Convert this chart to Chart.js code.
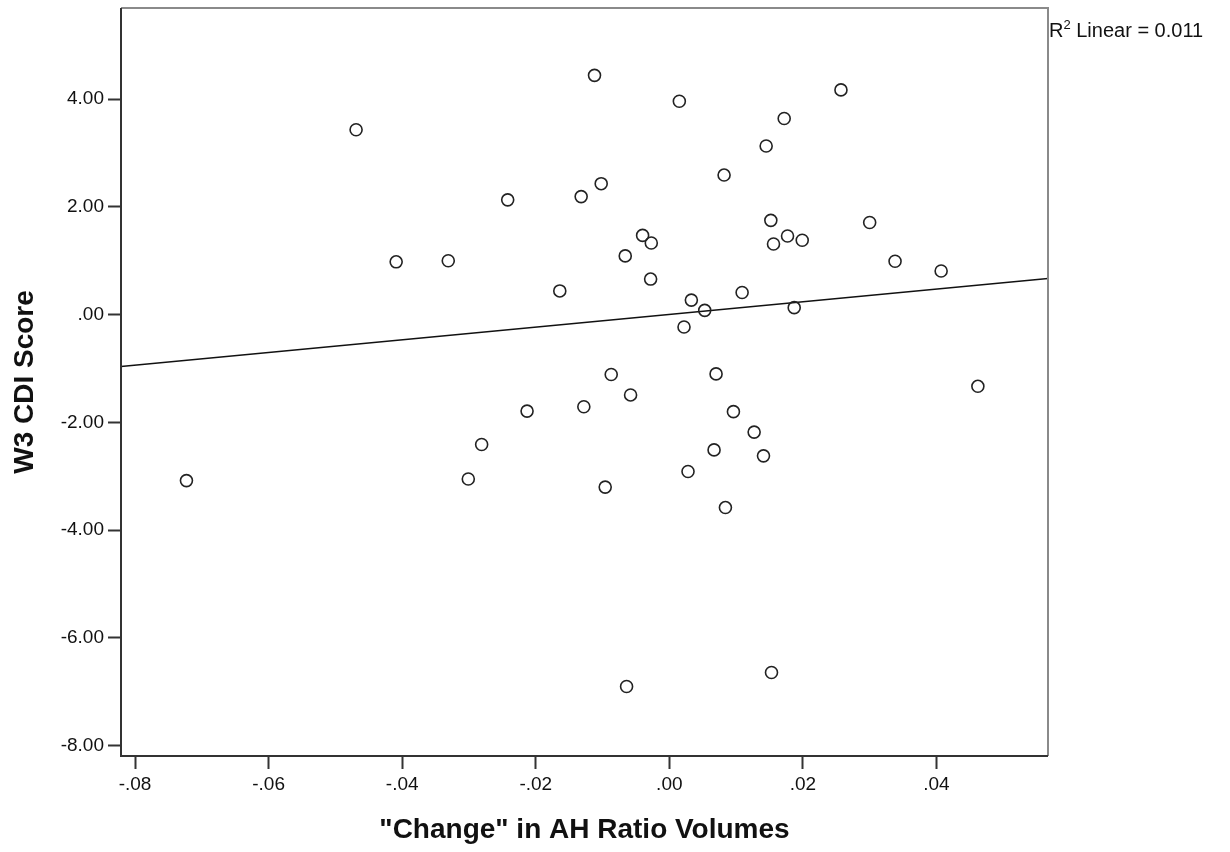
<!DOCTYPE html>
<html lang="en">
<head>
    <meta charset="UTF-8">
    <title>W3 CDI Score vs Change in AH Ratio Volumes</title>
    <script src="https://cdn.jsdelivr.net/npm/chart.js@4.4.1/dist/chart.umd.min.js"></script>
    <style>
        body { margin: 0; background: #fff; }
        #wrap { position: relative; width: 1230px; height: 852px; }
    </style>
</head>
<body>
    <div id="wrap">
        <canvas id="scatterCDI"></canvas>
    </div>

    <script>
        // values
        const changeAH = [
            -0.0723, -0.0469, -0.0409, -0.0331, -0.0301, -0.0281, -0.0242, -0.0213,
            -0.0164, -0.0132, -0.0128, -0.0112, -0.0102, -0.0096, -0.0087, -0.0066,
            -0.0064, -0.0058, -0.0040, -0.0027, -0.0028, 0.0015, 0.0022, 0.0028,
            0.0033, 0.0053, 0.0067, 0.0070, 0.0082, 0.0084, 0.0096, 0.0109,
            0.0127, 0.0141, 0.0145, 0.0152, 0.0153, 0.0156, 0.0172, 0.0177,
            0.0187, 0.0199, 0.0257, 0.0300, 0.0338, 0.0407, 0.0462
        ]
        const cdiScore = [
            -3.08, 3.43, 0.98, 1.00, -3.05, -2.41, 2.13, -1.79,
            0.44, 2.19, -1.71, 4.44, 2.43, -3.20, -1.11, 1.09,
            -6.90, -1.49, 1.47, 1.33, 0.66, 3.96, -0.23, -2.91,
            0.27, 0.08, -2.51, -1.10, 2.59, -3.58, -1.80, 0.41,
            -2.18, -2.62, 3.13, 1.75, -6.64, 1.31, 3.64, 1.46,
            0.13, 1.38, 4.17, 1.71, 0.99, 0.81, -1.33
        ]
        // fit line ends at the plot edges
        const fitX = [-0.0821, 0.0567]
        const fitY = [-0.963, 0.670]

        const xRange = [-0.0821, 0.0567]
        const yRange = [-8.19, 5.69]
        const xStep = 0.02
        const yStep = 2
        const r2Text = 'Linear = 0.011'

        function spssLabel(v) {
            let s = Number(v).toFixed(2)
            return s.replace(/^(-?)0\./, '$1.')
        }

        const framePlugin = {
            id: 'frame',
            afterDraw(chart) {
                const ctx = chart.ctx
                const a = chart.chartArea
                ctx.save()
                ctx.lineWidth = 2
                ctx.strokeStyle = '#8a8a8a'
                ctx.beginPath()
                ctx.moveTo(a.left, a.top)
                ctx.lineTo(a.right, a.top)
                ctx.lineTo(a.right, a.bottom)
                ctx.stroke()
                ctx.strokeStyle = '#333'
                ctx.beginPath()
                ctx.moveTo(a.left, a.top)
                ctx.lineTo(a.left, a.bottom)
                ctx.lineTo(a.right, a.bottom)
                ctx.stroke()

                // R² label
                ctx.fillStyle = '#111'
                ctx.textBaseline = 'alphabetic'
                ctx.textAlign = 'left'
                let x = a.right + 1
                ctx.font = '20px "Liberation Sans", Arial, sans-serif'
                ctx.fillText('R', x, 37)
                x += ctx.measureText('R').width
                ctx.font = '13px "Liberation Sans", Arial, sans-serif'
                ctx.fillText('2', x, 29)
                x += ctx.measureText('2').width
                ctx.font = '20px "Liberation Sans", Arial, sans-serif'
                ctx.fillText(' ' + r2Text, x, 37)
                ctx.restore()
            }
        }

        new Chart(document.getElementById('scatterCDI'), {
            type: 'scatter',
            data: {
                datasets: [
                    {
                        label: 'W3 CDI Score',
                        data: changeAH.map((x, i) => ({ x: x, y: cdiScore[i] })),
                        pointStyle: 'circle',
                        pointRadius: 6,
                        pointHoverRadius: 6,
                        pointBorderWidth: 1.6,
                        borderColor: '#222',
                        backgroundColor: 'rgba(0,0,0,0)',
                    },
                    {
                        type: 'line',
                        label: 'Fit',
                        data: fitX.map((x, i) => ({ x: x, y: fitY[i] })),
                        borderColor: '#111',
                        borderWidth: 1.6,
                        pointRadius: 0,
                        fill: false,
                    },
                ]
            },
            options: {
                responsive: true,
                maintainAspectRatio: false,
                animation: false,
                events: [],
                layout: { padding: { left: 0, right: 182, top: 8, bottom: 0 } },
                plugins: {
                    legend: { display: false },
                    tooltip: { enabled: false },
                },
                scales: {
                    x: {
                        type: 'linear',
                        min: xRange[0],
                        max: xRange[1],
                        afterFit: scale => {
                            scale.height = 96
                            scale.paddingLeft = 0
                            scale.paddingRight = 0
                        },
                        border: { display: false },
                        grid: { drawOnChartArea: false, drawTicks: true, tickLength: 13, tickColor: '#333', tickWidth: 2 },
                        ticks: {
                            stepSize: xStep,
                            includeBounds: false,
                            autoSkip: false,
                            maxRotation: 0,
                            padding: 4,
                            color: '#111',
                            font: { family: '"Liberation Sans", Arial, sans-serif', size: 19 },
                            callback: v => spssLabel(v),
                        },
                        title: {
                            display: true,
                            text: '"Change" in AH Ratio Volumes',
                            color: '#111',
                            font: { family: '"Liberation Sans", Arial, sans-serif', size: 28, weight: 'bold', lineHeight: 1 },
                            padding: { top: 0, bottom: 8 },
                        },
                    },
                    y: {
                        type: 'linear',
                        min: yRange[0],
                        max: yRange[1],
                        afterFit: scale => {
                            scale.width = 121
                            scale.paddingTop = 0
                            scale.paddingBottom = 0
                        },
                        border: { display: false },
                        grid: { drawOnChartArea: false, drawTicks: true, tickLength: 13, tickColor: '#333', tickWidth: 2 },
                        ticks: {
                            stepSize: yStep,
                            includeBounds: false,
                            autoSkip: false,
                            padding: 4,
                            color: '#111',
                            font: { family: '"Liberation Sans", Arial, sans-serif', size: 19 },
                            callback: v => spssLabel(v),
                        },
                        title: {
                            display: true,
                            text: 'W3 CDI Score',
                            color: '#111',
                            font: { family: '"Liberation Sans", Arial, sans-serif', size: 28, weight: 'bold', lineHeight: 1 },
                            padding: { top: 11, bottom: 0 },
                        },
                    },
                }
            },
            plugins: [framePlugin]
        })
    </script>
</body>
</html>
